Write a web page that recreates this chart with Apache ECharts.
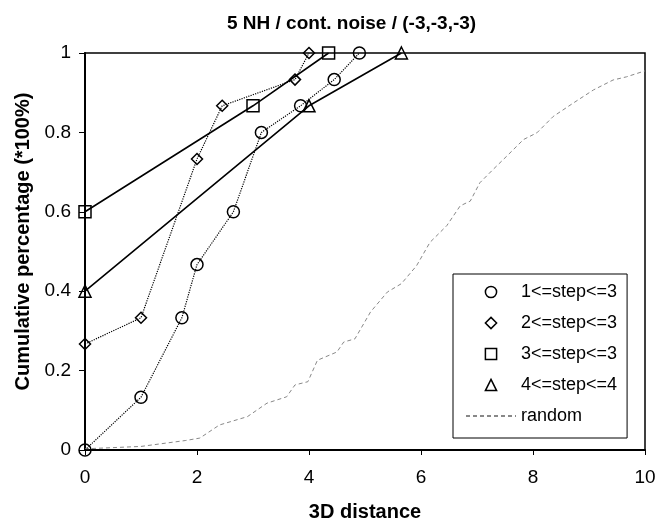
<!DOCTYPE html>
<html>
<head>
<meta charset="utf-8">
<script src="https://cdn.jsdelivr.net/npm/echarts@6/dist/echarts.min.js"></script>
<style>html,body{margin:0;padding:0;background:#fff;}#c{width:665px;height:527px;}</style>
</head>
<body>
<div id="c"></div>
<script>
var titleText = '5 NH / cont. noise / (-3,-3,-3)';
var xName = '3D distance';
var yName = 'Cumulative percentage (*100%)';
var seriesNames = ['1<=step<=3', '2<=step<=3', '3<=step<=3', '4<=step<=4', 'random'];

var s1x = [0, 1, 1.73, 2, 2.65, 3.15, 3.85, 4.45, 4.9];
var s1y = [0, 0.133, 0.333, 0.467, 0.6, 0.8, 0.867, 0.933, 1];
var s2x = [0, 1, 2, 2.45, 3.75, 4];
var s2y = [0.267, 0.333, 0.733, 0.867, 0.933, 1];
var s3x = [0, 3, 4.35];
var s3y = [0.6, 0.867, 1];
var s4x = [0, 4, 5.65];
var s4y = [0.4, 0.867, 1];
var rx = [0, 1, 1.8, 2.05, 2.4, 2.9, 3.25, 3.6, 3.75, 3.98, 4.15, 4.5, 4.62, 4.82, 5.1, 5.4, 5.65, 5.92, 6.16, 6.46, 6.7, 6.88, 7.05, 7.29, 7.53, 7.83, 8.07, 8.36, 8.72, 9.08, 9.43, 9.67, 10];
var ry = [0.003, 0.009, 0.024, 0.03, 0.063, 0.084, 0.118, 0.134, 0.164, 0.172, 0.226, 0.247, 0.272, 0.28, 0.348, 0.398, 0.419, 0.464, 0.523, 0.565, 0.615, 0.627, 0.673, 0.707, 0.74, 0.782, 0.799, 0.84, 0.874, 0.907, 0.932, 0.94, 0.955];

function pairs(xs, ys) { return xs.map(function (x, i) { return [x, ys[i]]; }); }

var FONT = "'Liberation Sans', Arial, sans-serif";
var hollow = { color: 'rgba(0,0,0,0)', borderColor: '#000', borderWidth: 1.5 };
var hollowLegend = { color: '#fff', borderColor: '#000', borderWidth: 1.5 };

var chart = echarts.init(document.getElementById('c'), null, { renderer: 'canvas' });
chart.setOption({
  animation: false,
  backgroundColor: '#fff',
  textStyle: { fontFamily: FONT },
  title: {
    text: titleText,
    left: 222, top: 9,
    textStyle: { fontFamily: FONT, fontSize: 19, fontWeight: 'bold', color: '#000' }
  },
  grid: { left: 85, right: 20, top: 53, bottom: 75, show: true, borderColor: '#000', borderWidth: 1.5, backgroundColor: 'transparent' },
  xAxis: {
    type: 'value', min: 0, max: 10, interval: 2,
    name: xName, nameLocation: 'middle', nameGap: 52,
    nameTextStyle: { fontFamily: FONT, fontSize: 20, fontWeight: 'bold', color: '#000' },
    axisLine: { lineStyle: { color: '#000', width: 2 } },
    axisTick: { length: 5, lineStyle: { color: '#000', width: 1 } },
    axisLabel: { fontFamily: FONT, fontSize: 19, color: '#000', margin: 18 },
    splitLine: { show: false }
  },
  yAxis: {
    type: 'value', min: 0, max: 1, interval: 0.2,
    name: yName, nameLocation: 'middle', nameGap: 50,
    nameTextStyle: { fontFamily: FONT, fontSize: 20, fontWeight: 'bold', color: '#000', padding: [0, 0, 0, 20] },
    axisLine: { lineStyle: { color: '#000', width: 2 } },
    axisTick: { length: 6, lineStyle: { color: '#000', width: 1 } },
    axisLabel: { fontFamily: FONT, fontSize: 19, color: '#000', margin: 14 },
    splitLine: { show: false }
  },
  legend: {
    orient: 'vertical', left: 453, top: 274,
    backgroundColor: '#fff', borderColor: '#000', borderWidth: 1,
    padding: [9, 10, 13, 12],
    itemGap: 13, itemWidth: 50, itemHeight: 14,
    textStyle: { fontFamily: FONT, fontSize: 18, color: '#000' },
    data: [
      { name: seriesNames[0], itemStyle: hollowLegend, lineStyle: { opacity: 0 } },
      { name: seriesNames[1], itemStyle: hollowLegend, lineStyle: { opacity: 0 } },
      { name: seriesNames[2], itemStyle: hollowLegend, lineStyle: { opacity: 0 } },
      { name: seriesNames[3], itemStyle: hollowLegend, lineStyle: { opacity: 0 } },
      { name: seriesNames[4], itemStyle: { opacity: 0 } }
    ]
  },
  series: [
    { name: seriesNames[4], type: 'line', data: pairs(rx, ry), symbol: 'none',
      lineStyle: { color: '#888', width: 1, type: [4, 3] }, itemStyle: { color: '#888' }, z: 1 },
    { name: seriesNames[0], type: 'line', data: pairs(s1x, s1y), symbol: 'circle', symbolSize: 12,
      lineStyle: { color: '#000', width: 1.2, type: 'dotted' }, itemStyle: hollow, z: 3 },
    { name: seriesNames[1], type: 'line', data: pairs(s2x, s2y), symbol: 'diamond', symbolSize: 11,
      lineStyle: { color: '#000', width: 1.2, type: 'dotted' }, itemStyle: hollow, z: 3 },
    { name: seriesNames[2], type: 'line', data: pairs(s3x, s3y), symbol: 'rect', symbolSize: 12,
      lineStyle: { color: '#000', width: 1.6 }, itemStyle: hollow, z: 3 },
    { name: seriesNames[3], type: 'line', data: pairs(s4x, s4y), symbol: 'triangle', symbolSize: 12,
      lineStyle: { color: '#000', width: 1.6 }, itemStyle: hollow, z: 3 }
  ]
});
</script>
</body>
</html>
